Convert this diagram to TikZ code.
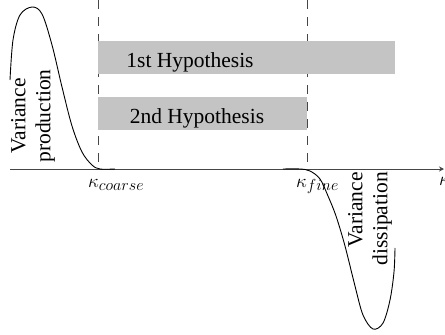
\documentclass[tikz,border=0pt]{standalone}
\usepackage{fix-cm}
\usepackage{fontspec}
\setmainfont{Liberation Serif}
\usetikzlibrary{arrows.meta}
\definecolor{boxgray}{RGB}{196,196,196}
\definecolor{axisgray}{RGB}{70,70,70}
\newcommand{\kapsub}[1]{{\fontsize{19}{20}\selectfont$\kappa$}\raisebox{-3pt}{\fontsize{16}{17}\selectfont$#1$}}
\begin{document}
\begin{tikzpicture}[x=1pt,y=-1pt,
  lbl/.style={font=\fontsize{21.5}{25}\selectfont, inner sep=0pt},
  hypbox/.style={fill=boxgray, draw=none},
  guide/.style={draw=axisgray, line width=1pt, dash pattern=on 9pt off 8pt},
  curve/.style={draw=black, line width=0.9pt},
  axisline/.style={draw=axisgray, line width=1pt},
  klabel/.style={inner sep=0pt, anchor=base west},
  ]
\useasboundingbox (0,0) rectangle (445,335);
% reference coordinates
\coordinate (ax0) at (10,169);
\coordinate (ax1) at (444,169);
\coordinate (kc) at (98,169);
\coordinate (kf) at (307,169);
\coordinate (kctop) at (98,0);
\coordinate (kftop) at (307,0);
% dashed guides
\draw[guide] (kctop) -- (kc);
\draw[guide] (kftop) -- (kf);
% hypothesis bars
\fill[hypbox] (98,41) rectangle (395,74);
\fill[hypbox] (98,97) rectangle (307,130);
\node[lbl, anchor=base] (h1) at (190,67) {1st Hypothesis};
\node[lbl, anchor=base] (h2) at (197,123) {2nd Hypothesis};
% axis
\draw[axisline,-{Stealth[length=5pt,width=5pt]}] (ax0) -- (ax1);
% production curve
\draw[curve] plot[smooth, tension=0.55] coordinates {(10,80) (13,40) (20,15) (32,7) (42,14) (52,45) (62,87) (72,126) (82,152) (92,165) (100,169) (115,169)};
% dissipation curve
\draw[curve] plot[smooth, tension=0.55] coordinates {(283,169) (300,169) (310,171) (320,179) (328,196) (336,216) (345,246) (355,286) (363,315) (373,329) (383,323) (390,300) (394,272) (395,248)};
% curve labels
\node[lbl, rotate=90, align=center] (vp) at (33,116) {Variance\\production};
\node[lbl, rotate=90, align=right, anchor=east] (vd) at (370,172) {Variance\\dissipation};
% axis labels
\node[klabel] (lc) at (88,187) {\kapsub{coarse}};
\node[klabel] (lf) at (296,187) {\kapsub{fine}};
\node[klabel] (lk) at (439,185) {{\fontsize{19}{20}\selectfont$\kappa$}};
\end{tikzpicture}
\end{document}
